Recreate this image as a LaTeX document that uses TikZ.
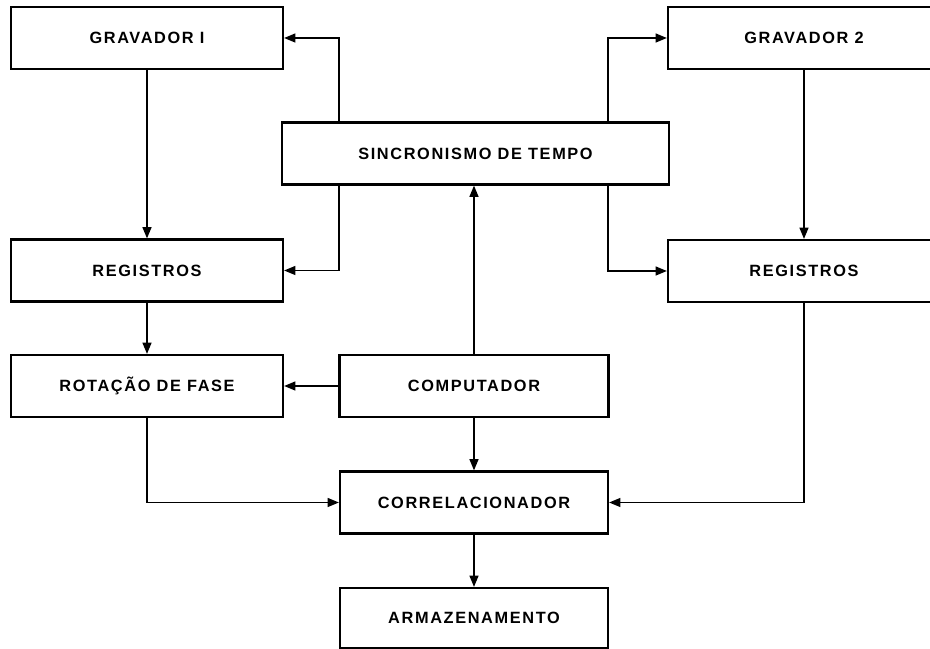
\documentclass[tikz,border=0pt]{standalone}
\usepackage{fontspec}
\newfontfamily\rotulo[LetterSpace=10]{Liberation Sans}
\usetikzlibrary{arrows.meta}

\begin{document}
\begin{tikzpicture}[x=0.025cm,y=-0.025cm,
    bloco/.style={draw,line width=1.5pt,minimum width=6.8cm,minimum height=1.55cm,inner sep=0pt,
      font=\rotulo\bfseries\fontsize{11.6}{14}\selectfont},
    seta/.style={line width=1.2pt,-{Triangle[length=2.8mm,width=2.2mm]}}]
  \useasboundingbox (0,0) rectangle (930,649);

  % blocos
  \node[bloco] (grav1) at (147,38) {GRAVADOR I};
  \node[bloco] (grav2) at (804,38) {GRAVADOR 2};
  \node[bloco,minimum width=9.675cm] (sinc) at (475.5,153.5) {SINCRONISMO DE TEMPO};
  \node[bloco] (reg1) at (147,270.5) {REGISTROS};
  \node[bloco] (reg2) at (804,271) {REGISTROS};
  \node[bloco] (rot) at (147,386) {ROTAÇÃO DE FASE};
  \node[bloco,minimum width=6.725cm] (comp) at (474,386) {COMPUTADOR};
  \node[bloco,minimum width=6.7cm] (corr) at (474,502.5) {CORRELACIONADOR};
  \node[bloco,minimum width=6.7cm,minimum height=1.5cm] (armaz) at (474,618) {ARMAZENAMENTO};

  \coordinate (esq) at (339,0);
  \coordinate (dir) at (608,0);

  % ligacoes
  \draw[seta] (grav1) -- (reg1);
  \draw[seta] (grav2) -- (reg2);
  \draw[seta] (reg1) -- (rot);
  \draw[seta] (sinc.north -| esq) -- (esq |- grav1.east) -- (grav1.east);
  \draw[seta] (sinc.north -| dir) -- (dir |- grav2.west) -- (grav2.west);
  \draw[seta] (sinc.south -| esq) -- (esq |- reg1.east) -- (reg1.east);
  \draw[seta] (sinc.south -| dir) -- (dir |- reg2.west) -- (reg2.west);
  \draw[seta] (comp.north) -- (comp.north |- sinc.south);
  \draw[seta] (comp) -- (rot);
  \draw[seta] (comp) -- (corr);
  \draw[seta] (rot.south) -- (rot.south |- corr.west) -- (corr.west);
  \draw[seta] (reg2.south) -- (reg2.south |- corr.east) -- (corr.east);
  \draw[seta] (corr) -- (armaz);

\end{tikzpicture}
\end{document}
